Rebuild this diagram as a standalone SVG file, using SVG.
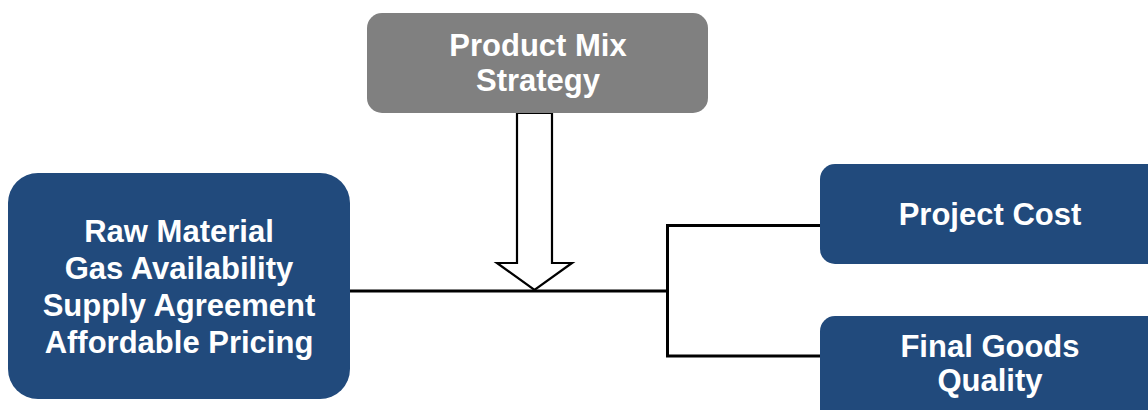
<svg xmlns="http://www.w3.org/2000/svg" width="1148" height="410" viewBox="0 0 1148 410">
<style>
.blue{fill:#214A7C}
.gray{fill:#808080}
.t{font-family:"Liberation Sans",Arial,sans-serif;font-weight:bold;font-size:31px;fill:#fff;text-anchor:middle}
.ln{stroke:#000;stroke-width:3;fill:none}
</style>
<rect width="1148" height="410" fill="#fff"/>
<g id="connectors">
<line class="ln" x1="350" y1="291" x2="668" y2="291"/>
<polyline class="ln" points="822,225.5 667.5,225.5 667.5,356 822,356"/>
<path d="M517,113 L552,113 L552,263 L572,263 L534.5,290 L497,263 L517,263 Z" fill="#fff" stroke="#000" stroke-width="2.2" stroke-linejoin="miter"/>
</g>
<g id="product-mix">
<rect class="gray" x="367" y="13" width="341" height="100" rx="15"/>
<text class="t" x="538" y="56">Product Mix</text>
<text class="t" x="538" y="91">Strategy</text>
</g>
<g id="raw-material">
<rect class="blue" x="8" y="173" width="342" height="226" rx="30"/>
<text class="t" x="179" y="242">Raw Material</text>
<text class="t" x="179" y="279">Gas Availability</text>
<text class="t" x="179" y="316">Supply Agreement</text>
<text class="t" x="179" y="353">Affordable Pricing</text>
</g>
<g id="project-cost">
<rect class="blue" x="820" y="164" width="350" height="100" rx="15"/>
<text class="t" x="990" y="225">Project Cost</text>
</g>
<g id="final-goods">
<rect class="blue" x="820" y="316" width="350" height="120" rx="15"/>
<text class="t" x="990" y="357">Final Goods</text>
<text class="t" x="990" y="391">Quality</text>
</g>
</svg>
